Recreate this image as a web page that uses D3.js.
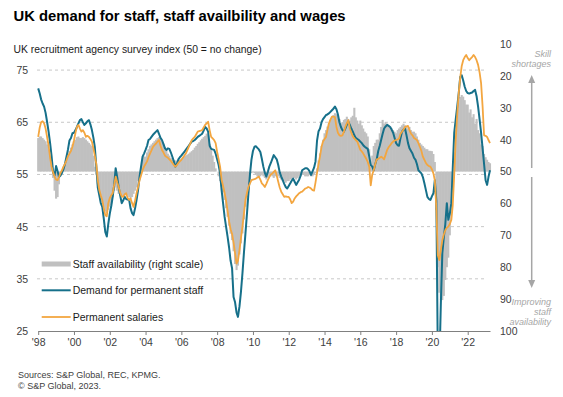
<!DOCTYPE html>
<html><head><meta charset="utf-8">
<script src="https://cdn.jsdelivr.net/npm/d3@7/dist/d3.min.js"></script>
<style>
body{margin:0;background:#fff}
svg{display:block}
text{font-family:"Liberation Sans",Arial,Helvetica,sans-serif}
</style>
</head><body>
<svg id="chart" width="563" height="397"></svg>
<script>
// ---- data (monthly, starting Jan 1998) ----
const startYear = 1998;
const demand = [
71.5,70.5,69.4,68.6,68.0,66.8,65.1,63.2,61.0,58.5,55.5,54.8,
56.6,55.6,54.5,54.8,55.3,56.0,57.0,58.4,59.8,61.5,62.0,62.9,
63.0,63.5,64.1,64.8,65.4,65.6,65.0,64.5,64.8,65.2,65.4,64.6,
63.5,62.0,60.3,56.5,52.5,51.0,49.5,48.8,46.5,44.0,43.1,45.5,
47.5,49.0,50.7,53.0,56.2,54.5,52.6,51.0,49.5,50.0,50.7,50.3,
50.2,50.1,48.5,47.6,47.2,48.5,50.1,52.0,54.6,56.5,58.4,59.0,
59.7,60.5,61.6,61.8,62.2,62.6,62.9,63.2,63.5,62.8,62.0,61.6,
60.8,60.0,59.7,60.0,59.9,59.2,58.4,57.5,56.5,57.0,57.9,58.3,
58.6,59.0,59.3,59.7,60.1,60.5,60.9,61.3,61.4,61.6,61.9,62.2,
62.4,62.6,62.8,63.4,64.1,63.8,63.2,60.5,59.9,59.8,59.7,59.0,
57.9,56.8,55.2,52.0,49.5,46.9,45.0,43.1,41.0,38.5,37.0,31.5,
30.5,28.5,27.7,29.7,32.5,36.1,40.0,43.7,47.5,51.4,55.0,57.8,
59.5,60.3,60.4,60.1,59.8,59.3,58.0,56.5,55.3,54.6,55.5,56.5,
57.2,58.0,58.7,58.3,57.9,56.8,55.4,54.6,53.9,53.2,52.6,52.3,
52.8,53.3,53.8,54.2,53.6,53.0,53.5,54.0,54.8,55.8,56.0,56.2,
56.2,56.0,55.6,54.9,55.6,56.3,57.5,61.5,63.3,63.8,65.0,65.6,
66.0,66.4,66.5,66.7,67.0,67.3,67.6,68.0,67.5,66.5,65.0,64.1,
63.5,63.2,63.8,64.5,65.1,64.5,63.8,63.2,62.5,62.0,61.8,61.6,
61.3,61.0,60.6,60.3,60.1,59.9,58.5,56.8,56.5,55.8,57.0,57.9,
59.5,60.5,61.6,62.8,63.8,64.2,64.5,64.3,64.1,63.6,63.0,62.0,
61.0,60.6,60.5,62.0,63.2,63.6,63.8,62.5,61.0,60.0,59.5,59.0,
58.2,57.8,57.0,55.8,55.5,55.2,54.5,53.3,52.0,50.7,50.3,50.1,
50.8,51.4,53.9,50.0,20.0,18.0,30.0,39.9,43.0,45.5,49.5,46.3,
47.5,49.5,56.0,63.0,65.5,68.0,70.5,73.7,74.0,73.0,71.8,71.0,
70.6,70.5,70.6,70.7,71.0,71.2,70.0,68.0,65.5,63.0,60.0,57.0,
53.9,53.0,54.5,55.8
];
const salaries = [
62.2,64.0,65.0,65.2,64.8,63.8,62.2,60.5,58.2,56.5,55.4,54.6,
54.0,53.9,54.5,55.3,55.8,56.5,57.0,57.7,58.5,59.0,59.5,60.3,
61.5,63.0,64.1,64.5,63.8,63.2,63.5,63.0,62.2,62.4,62.2,61.8,
61.3,60.0,58.6,57.0,53.9,52.0,51.0,50.1,48.5,47.2,47.0,49.5,
50.5,51.0,51.4,53.0,54.6,53.5,52.6,51.5,50.8,50.7,51.2,51.4,
50.5,50.1,50.4,49.5,48.8,50.0,51.4,52.6,53.9,54.8,55.8,56.5,
57.0,57.5,58.3,59.0,59.6,60.3,60.6,60.9,61.3,61.6,60.5,59.7,
59.2,58.6,58.4,58.2,57.9,57.6,57.2,56.8,56.5,56.8,57.2,57.5,
57.8,58.2,58.6,59.0,59.6,60.3,60.9,61.6,61.9,62.2,62.7,63.2,
63.3,63.4,63.5,64.0,64.5,64.8,65.1,63.5,62.2,61.9,61.6,61.0,
59.3,57.9,56.5,54.0,52.8,51.5,50.0,48.0,46.0,44.5,43.6,42.0,
39.9,37.9,38.5,40.5,42.8,45.0,47.5,50.1,51.5,52.6,53.3,53.9,
54.0,54.1,54.2,54.4,54.6,54.0,53.3,53.0,52.6,53.2,53.9,54.5,
55.0,55.2,55.5,55.8,54.8,53.6,52.5,51.7,51.2,50.7,50.8,50.7,
50.7,50.2,49.5,49.8,50.4,50.8,51.1,51.4,51.6,51.7,52.0,52.3,
52.4,52.6,52.5,52.3,52.0,51.9,53.5,55.3,57.0,58.5,60.3,61.3,
61.8,62.2,63.5,64.8,65.5,66.1,66.1,66.0,64.1,63.0,62.5,62.4,
62.5,63.2,64.1,64.8,65.4,63.8,63.0,62.3,61.9,61.6,61.3,60.5,
59.7,59.4,59.0,58.5,58.0,57.4,56.5,52.9,55.0,55.8,57.0,57.9,
58.0,58.2,58.4,58.2,57.9,58.8,59.7,60.2,60.6,61.0,61.3,61.5,
61.6,61.7,61.9,62.8,63.2,63.6,64.1,64.2,64.3,63.5,62.8,62.5,
62.0,61.8,61.6,61.0,60.3,59.5,58.4,57.8,57.2,56.8,56.6,56.5,
56.0,55.2,53.9,48.5,39.5,38.6,40.5,42.4,43.5,44.3,44.8,45.0,
45.5,46.3,49.0,55.0,61.6,66.5,70.5,73.5,75.8,76.9,77.5,77.9,
77.3,76.9,77.2,77.5,77.9,77.5,76.9,76.0,74.5,72.5,68.0,62.5,
62.4,62.2,61.6,61.0
];
const availability = [
39.5,39,39,39.5,40,40.5,41.5,43,45,48,52,56,
58.5,58,54,51,49.5,48.5,47.5,46.5,45,43.5,42.5,41.5,
40.5,40,39.2,39,39.5,39.5,39.2,39.5,40,40.5,41,41.5,
42,45,48.5,51,54,56,58,59.5,61,62.5,63,62,
61,60,58,56,55,56,57,57.5,58,58,57.5,57,
57.5,58,58.5,58,57,56,55,53,51,48.5,46.5,45.3,
45.3,44,43,42,41.5,41,40.5,40,39.5,39.2,39.8,40.5,
41.3,42.3,43.3,44.4,45,45.8,46.3,46.5,46.5,46.6,46.5,46.3,
46,45.5,45.3,45,44.7,44.4,44,43.6,43.2,42.5,42,41.3,
40.8,40.2,39.7,39.2,38.8,38.1,38.5,41.3,43,45,47,49,
50,51.5,53,54.7,56.5,58.9,61.5,64.2,67,69.5,71.5,75,
79,80.9,79.5,76,72.5,69.4,65,61,58,54.7,52.5,50.5,
50.2,50.5,51,51.5,52,51.5,51,51.5,52,52.5,52,51.5,
51,51.5,52,51.5,51,51.5,52,52.5,53,53,53.5,53,
53,52.5,52.5,52,52,52.5,52,51.5,51.5,51,51,51.5,
51.5,51.5,51,51.5,51.5,51,50.5,49,46.5,44.3,42,40,
38,37,35.9,34.8,33.8,33,32.3,31.7,32,32.3,33.5,34.9,
34.5,33.8,33.5,32.8,33.5,34,33,32.5,30,33,34,35,
34,35.5,36.5,37.5,38,39,43,48.4,45,42,41,40,
40,38,36,33.8,35,34.5,35,35.5,35.9,36.5,37,37.5,
38,37,36.5,36,35.5,35,35.5,36,36.5,36,37,37.5,
37.5,38,39,40,41,41.5,42,42.5,43,43,43.5,43.5,
43.6,44.5,47,62,80,88,90.3,90.3,89,84,80,77,
70,63,55.8,44,37,31.7,27.6,26.6,26,26.5,27.6,29,
29,31.5,30.5,33,32,35,33.5,37,38,41.5,42,44.5,
45.5,46.3,47,47.4
];
const leftTicks = [25, 35, 45, 55, 65, 75];
const gridTicks = [35, 45, 55, 65, 75];
const rightTicks = [10, 20, 30, 40, 50, 60, 70, 80, 90, 100];
const xTickYears = [1998, 2000, 2002, 2004, 2006, 2008, 2010, 2012, 2014, 2016, 2018, 2020, 2022];

// ---- drawing ----
const svg = d3.select("#chart");
const P = {left: 38.2, right: 490, top: 44, bottom: 331};
const dateOf = i => new Date(startYear, i, 1);
const nLast = demand.length - 1;
const x = d3.scaleTime().domain([dateOf(0), dateOf(nLast)]).range([P.left, P.right]);
const yL = d3.scaleLinear().domain([25, 80]).range([P.bottom, P.top]);
const yR = d3.scaleLinear().domain([100, 10]).range([P.bottom, P.top]);

const GREY = "#c0c0c0", BLUE = "#16708a", ORANGE = "#f3a640", TXT = "#404040";

// title
svg.append("text").attr("x", 13.6).attr("y", 21).attr("font-size", 15).attr("font-weight", "bold")
  .attr("fill", "#000").attr("textLength", 332).attr("lengthAdjust", "spacingAndGlyphs")
  .text("UK demand for staff, staff availbility and wages");
svg.append("text").attr("x", 13.6).attr("y", 52.5).attr("font-size", 10.5).attr("fill", "#1a1a1a")
  .attr("textLength", 248).attr("lengthAdjust", "spacingAndGlyphs")
  .text("UK recruitment agency survey index (50 = no change)");

// gridlines
svg.append("g").selectAll("line").data(gridTicks).join("line")
  .attr("x1", 37).attr("x2", 487).attr("y1", d => yL(d)).attr("y2", d => yL(d))
  .attr("stroke", "#c8c8c8").attr("stroke-width", 1).attr("stroke-dasharray", "3,3");

// clip
svg.append("clipPath").attr("id", "clip").append("rect")
  .attr("x", 30).attr("y", P.top - 4).attr("width", 470).attr("height", P.bottom - P.top + 4);

// bars
const bw = (P.right - P.left) / nLast;
svg.append("g").attr("clip-path", "url(#clip)").selectAll("rect").data(availability).join("rect")
  .attr("x", (d, i) => x(dateOf(i)) - bw / 2 - 0.3)
  .attr("width", bw + 0.6)
  .attr("y", d => Math.min(yR(d), yR(50)))
  .attr("height", d => Math.abs(yR(d) - yR(50)))
  .attr("fill", GREY);

// lines
const line = d3.line().x((d, i) => x(dateOf(i))).y(d => yL(d));
const gl = svg.append("g").attr("clip-path", "url(#clip)");
gl.append("path").datum(demand).attr("d", line).attr("fill", "none").attr("stroke", BLUE)
  .attr("stroke-width", 2).attr("stroke-linejoin", "round");
gl.append("path").datum(salaries).attr("d", line).attr("fill", "none").attr("stroke", ORANGE)
  .attr("stroke-width", 1.8).attr("stroke-linejoin", "round");

// x axis
const xAxis = d3.axisBottom(x)
  .tickValues(xTickYears.map(y => new Date(y, 0, 1)))
  .tickFormat(d => "'" + String(d.getFullYear()).slice(2))
  .tickSize(4).tickSizeOuter(0).tickPadding(4);
const gx = svg.append("g").attr("transform", `translate(0,${P.bottom})`).call(xAxis);
gx.select(".domain").attr("stroke", "#808080").attr("stroke-width", 1.2);
gx.selectAll(".tick line").attr("stroke", "#808080");
gx.selectAll(".tick text").attr("font-size", 10.5).attr("fill", TXT)
  .attr("font-family", '"Liberation Sans",Arial,sans-serif');

// left axis
const gyl = svg.append("g").attr("transform", `translate(${P.left},0)`)
  .call(d3.axisLeft(yL).tickValues(leftTicks).tickSize(0).tickPadding(10));
gyl.select(".domain").remove();
gyl.selectAll(".tick text").attr("font-size", 10.5).attr("fill", TXT)
  .attr("font-family", '"Liberation Sans",Arial,sans-serif');

// right axis
const gyr = svg.append("g").attr("transform", `translate(${P.right},0)`)
  .call(d3.axisRight(yR).tickValues(rightTicks).tickSize(0).tickPadding(10));
gyr.select(".domain").remove();
gyr.selectAll(".tick text").attr("font-size", 10.5).attr("fill", TXT)
  .attr("font-family", '"Liberation Sans",Arial,sans-serif');

// legend
const lg = svg.append("g");
lg.append("rect").attr("x", 41.7).attr("y", 261.5).attr("width", 29).attr("height", 5).attr("fill", GREY);
lg.append("line").attr("x1", 41.7).attr("x2", 70.7).attr("y1", 290.3).attr("y2", 290.3).attr("stroke", BLUE).attr("stroke-width", 2);
lg.append("line").attr("x1", 41.7).attr("x2", 70.7).attr("y1", 317).attr("y2", 317).attr("stroke", ORANGE).attr("stroke-width", 1.8);
const legendItems = ["Staff availability (right scale)", "Demand for permanent staff", "Permanent salaries"];
const legendY = [264, 290.3, 317];
lg.selectAll("text").data(legendItems).join("text")
  .attr("x", 72.7).attr("y", (d, i) => legendY[i]).attr("dy", "0.35em")
  .attr("font-size", 10.5).attr("fill", "#1a1a1a").text(d => d);

// annotation on right
const ANN = "#a6a6a6";
const ann = svg.append("g").attr("fill", ANN).attr("font-size", 9).attr("font-style", "italic").attr("text-anchor", "end");
[["Skill", 56.5], ["shortages", 67]].forEach(([t, y]) => ann.append("text").attr("x", 551).attr("y", y).text(t));
[["Improving", 305], ["staff", 315], ["availability", 325]].forEach(([t, y]) => ann.append("text").attr("x", 551).attr("y", y).text(t));
const ax = 531.7;
svg.append("line").attr("x1", ax).attr("x2", ax).attr("y1", 168).attr("y2", 82).attr("stroke", ANN).attr("stroke-width", 1.5);
svg.append("path").attr("d", `M${ax},75 L${ax-3.5},83 L${ax+3.5},83 Z`).attr("fill", ANN);
svg.append("line").attr("x1", ax).attr("x2", ax).attr("y1", 177).attr("y2", 281).attr("stroke", ANN).attr("stroke-width", 1.5);
svg.append("path").attr("d", `M${ax},288 L${ax-3.5},280 L${ax+3.5},280 Z`).attr("fill", ANN);

// sources
svg.append("text").attr("x", 18).attr("y", 378).attr("font-size", 9).attr("fill", "#404040").text("Sources: S&P Global, REC, KPMG.");
svg.append("text").attr("x", 18).attr("y", 389).attr("font-size", 9).attr("fill", "#404040").text("© S&P Global, 2023.");
</script>
</body></html>
